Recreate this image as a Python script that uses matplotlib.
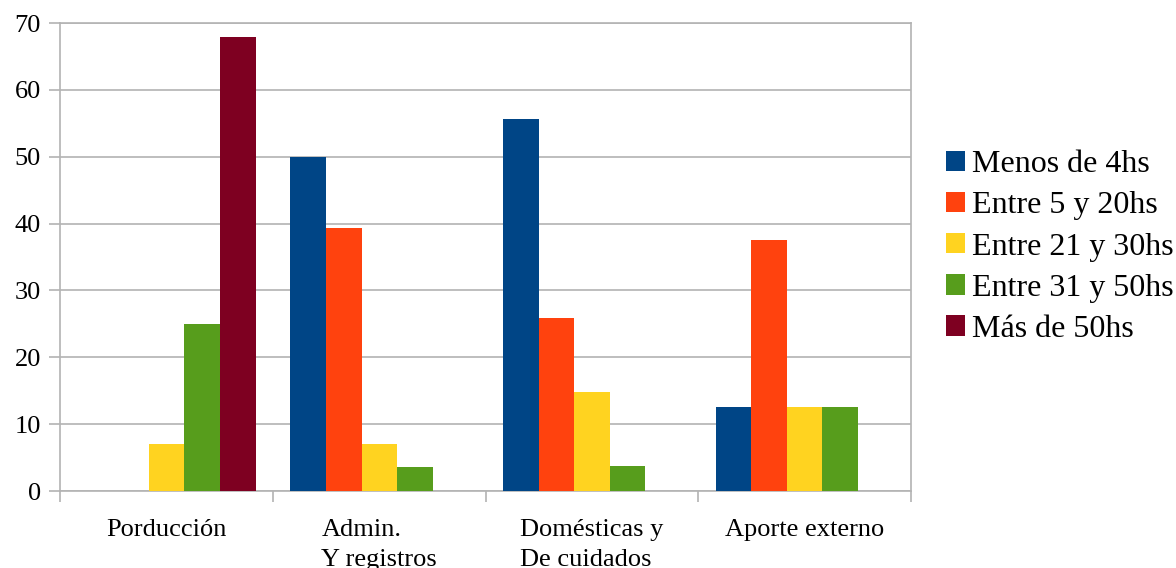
import numpy as np
import matplotlib
matplotlib.use('agg')
import matplotlib.pyplot as plt
from matplotlib.patches import Patch

plt.rcParams['font.family'] = ['Liberation Serif', 'DejaVu Serif']

categorias = ['Porducción', 'Admin.\nY registros', 'Domésticas y\nDe cuidados', 'Aporte externo']
series = ['Menos de 4hs', 'Entre 5 y 20hs', 'Entre 21 y 30hs', 'Entre 31 y 50hs', 'Más de 50hs']
colores = ['#004586', '#ff420e', '#ffd320', '#579d1c', '#7e0021']

menos_4 = [0, 50.0, 55.6, 12.5]
entre_5_20 = [0, 39.3, 25.9, 37.5]
entre_21_30 = [7.1, 7.1, 14.8, 12.5]
entre_31_50 = [25.0, 3.6, 3.7, 12.5]
mas_50 = [67.9, 0, 0, 0]
valores = [menos_4, entre_5_20, entre_21_30, entre_31_50, mas_50]

gris = '#b3b3b3'

fig = plt.figure(figsize=(11.76, 5.68), dpi=100)
ax = fig.add_axes([60.3 / 1176, 1 - 491 / 568, (911 - 60.3) / 1176, (491 - 23) / 568])

x = np.arange(len(categorias))
ancho = 0.1675
inicio = -0.5 + (1 - ancho * len(series)) / 2
for k, (vals, c) in enumerate(zip(valores, colores)):
    ax.bar(x + inicio + (k + 0.5) * ancho, vals, width=ancho, color=c, zorder=3, linewidth=0)

ax.set_xlim(-0.5, len(categorias) - 0.5)
ax.set_ylim(0, 70)
ax.set_yticks(range(0, 71, 10))
ax.yaxis.grid(True, color=gris, linewidth=1.2, zorder=0)

# ticks en los limites de cada categoria, etiquetas centradas
ax.set_xticks(np.arange(-0.5, len(categorias)), labels=[''] * (len(categorias) + 1))
ax.set_xticks(x, labels=categorias, minor=True)
ax.tick_params(axis='x', which='minor', length=0, pad=20, labelsize=19)
ax.tick_params(axis='x', which='major', length=8, width=1.2, color=gris)
ax.tick_params(axis='y', length=8, width=1.2, color=gris, pad=6, labelsize=19)
for lab in ax.get_xticklabels(minor=True):
    lab.set_multialignment('left')
    lab.set_linespacing(1.5)

for s in ax.spines.values():
    s.set_color(gris)
    s.set_linewidth(1.2)

handles = [Patch(facecolor=c, edgecolor='none') for c in colores]
fig.legend(handles, series, loc='center left', bbox_to_anchor=(946 / 1176, 1 - 247 / 568),
           frameon=False, fontsize=23, handlelength=0.6, handleheight=0.6,
           handletextpad=0.22, labelspacing=0.38, borderpad=0, borderaxespad=0)

fig.savefig('out.png', dpi=100)
